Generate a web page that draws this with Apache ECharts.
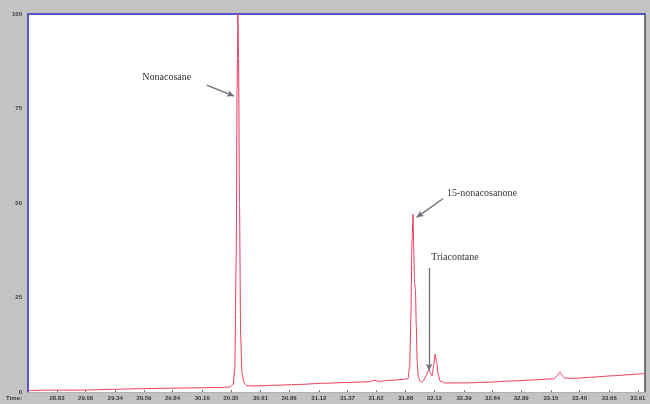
<!DOCTYPE html>
<html>
<head>
<meta charset="utf-8">
<script src="https://cdn.jsdelivr.net/npm/echarts@6/dist/echarts.min.js"></script>
<style>
  html, body { margin: 0; padding: 0; background: #c3c3c3; }
  #chart { width: 650px; height: 404px; }
</style>
</head>
<body>
<div id="chart"></div>
<script>
// Retention time (min) and relative abundance (%) of the chromatogram trace
const retentionTimes = [
  28.58, 28.80, 29.05, 29.30, 29.45, 29.60, 29.80, 30.05, 30.25, 30.34,
  30.37, 30.385, 30.397, 30.405, 30.412, 30.418, 30.426, 30.436, 30.448, 30.465,
  30.49, 30.55, 30.75, 30.95, 31.15, 31.35, 31.55, 31.61, 31.64, 31.75,
  31.85, 31.90, 31.915, 31.925, 31.935, 31.944, 31.951, 31.957, 31.965, 31.972,
  31.98, 31.99, 32.005, 32.02, 32.04, 32.06, 32.08, 32.095, 32.11, 32.125,
  32.137, 32.15, 32.165, 32.18, 32.22, 32.40, 32.60, 32.80, 33.00, 33.18,
  33.21, 33.228, 33.245, 33.27, 33.35, 33.50, 33.70, 33.85, 33.973
];
const abundance = [
  0.4, 0.5, 0.5, 0.7, 0.8, 0.9, 1.0, 1.1, 1.2, 1.3,
  2.0, 6, 35, 80, 100, 88, 50, 15, 5, 2.4,
  1.7, 1.6, 1.8, 2.0, 2.3, 2.5, 2.7, 3.1, 2.8, 3.1,
  3.3, 3.5, 7, 20, 40, 47, 37, 29, 27, 18,
  8, 4, 2.9, 2.6, 3.2, 4.5, 5.8, 5.2, 4.3, 7,
  10, 8, 4.5, 2.9, 2.4, 2.4, 2.6, 2.9, 3.2, 3.5,
  4.5, 5.3, 4.5, 3.7, 3.6, 3.9, 4.3, 4.6, 4.9
];

// Time axis labels
const timeTicks = [28.83, 29.08, 29.34, 29.59, 29.84, 30.10, 30.35, 30.61, 30.86, 31.12,
  31.37, 31.62, 31.88, 32.13, 32.39, 32.64, 32.89, 33.15, 33.40, 33.66, 33.91];
const abundanceTicks = [0, 25, 50, 75, 100];

// Compound annotations: label position and arrow [from, to] in data units
const compoundNames = ['Nonacosane', '15-nonacosanone', 'Triacontane'];
const labelAt = [[29.79, 83.3], [32.24, 52.6], [32.31, 35.7]];
const arrowFrom = [[30.14, 81.2], [32.205, 51.1], [32.084, 32.8]];
const arrowTo = [[30.378, 78.3], [31.975, 46.2], [32.084, 5.6]];

const T_MIN = 28.576, T_MAX = 33.973;

const chart = echarts.init(document.getElementById('chart'), null, { renderer: 'canvas' });

const tickLabelStyle = {
  fontFamily: 'Liberation Sans, Arial, sans-serif',
  fontSize: 6,
  fontWeight: 'bold',
  color: '#3a3a3a'
};

chart.setOption({
  backgroundColor: '#c3c3c3',
  animation: false,
  grid: {
    left: 28, right: 5, top: 14, bottom: 12,
    outerBoundsMode: 'none', containLabel: false,
    show: true, backgroundColor: '#ffffff', borderWidth: 0
  },
  xAxis: [
    {
      type: 'value', min: T_MIN, max: T_MAX, position: 'bottom',
      name: 'Time:', nameLocation: 'start', nameGap: 6,
      nameTextStyle: Object.assign({}, tickLabelStyle, { verticalAlign: 'top', align: 'right', padding: [3, 0, 0, 0] }),
      axisLine: { show: true, lineStyle: { color: '#b0b0b0', width: 1 } },
      axisTick: { show: true, inside: true, length: 2, customValues: timeTicks, lineStyle: { color: '#777' } },
      axisLabel: Object.assign({}, tickLabelStyle, {
        customValues: timeTicks, margin: 3,
        formatter: v => v.toFixed(2)
      }),
      splitLine: { show: false }
    },
    {
      type: 'value', min: T_MIN, max: T_MAX, position: 'top',
      axisLine: { show: true, onZero: false, lineStyle: { color: '#5656c8', width: 2 } },
      axisTick: { show: false }, axisLabel: { show: false }, splitLine: { show: false }
    }
  ],
  yAxis: [
    {
      type: 'value', min: 0, max: 100, interval: 25, position: 'left',
      axisLine: { show: true, onZero: false, lineStyle: { color: '#5656c8', width: 2 } },
      axisTick: { show: false },
      axisLabel: Object.assign({}, tickLabelStyle, {
        customValues: abundanceTicks, margin: 6, formatter: v => String(v)
      }),
      splitLine: { show: false }
    },
    {
      type: 'value', min: 0, max: 100, position: 'right',
      axisLine: { show: true, onZero: false, lineStyle: { color: '#505050', width: 1.5 } },
      axisTick: { show: false }, axisLabel: { show: false }, splitLine: { show: false }
    }
  ],
  series: [
    {
      type: 'line',
      xAxisIndex: 0, yAxisIndex: 0,
      data: retentionTimes.map((t, i) => [t, abundance[i]]),
      showSymbol: false,
      smooth: 0.2,
      smoothMonotone: 'x',
      lineStyle: { color: '#ee3a5a', width: 1 },
      clip: true,
      markLine: {
        silent: true,
        symbol: ['none', 'arrow'],
        symbolSize: [5, 7],
        lineStyle: { color: '#6e6e7a', width: 1.3, type: 'solid' },
        label: { show: false },
        data: arrowFrom.map((p, i) => [
          { coord: p },
          { coord: arrowTo[i] }
        ])
      },
      markPoint: {
        silent: true,
        symbol: 'circle', symbolSize: 0,
        label: {
          show: true,
          fontFamily: 'Liberation Serif, Times New Roman, serif',
          fontSize: 10,
          color: '#333333',
          formatter: p => p.name
        },
        data: compoundNames.map((n, i) => ({
          name: n, coord: labelAt[i],
          label: i === 1 ? { align: 'left', position: 'inside' } : { position: 'inside' }
        }))
      }
    }
  ]
});
</script>
</body>
</html>
